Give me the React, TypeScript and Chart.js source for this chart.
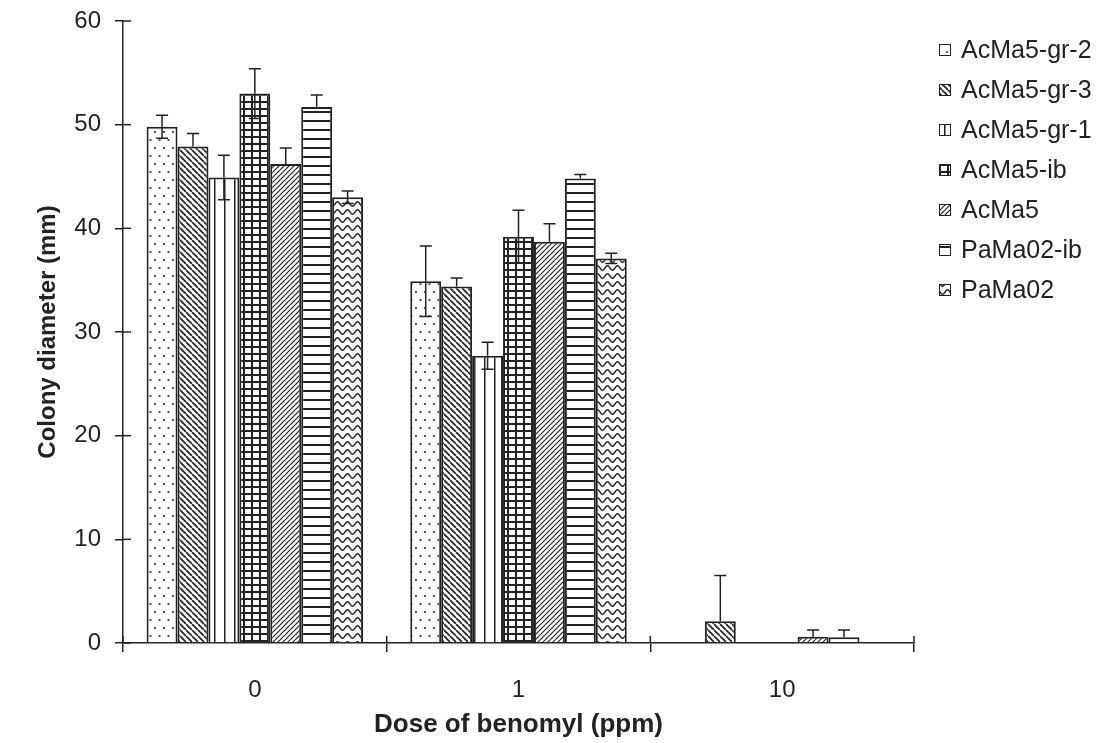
import React, { useEffect, useRef } from 'react';
import { Chart, registerables } from 'chart.js';

Chart.register(...registerables);

// ---------- data ----------
const categories = ['0', '1', '10'];
const seriesNames = ['AcMa5-gr-2', 'AcMa5-gr-3', 'AcMa5-gr-1', 'AcMa5-ib', 'AcMa5', 'PaMa02-ib', 'PaMa02'];

const acma5gr2 = [49.8, 34.9, 0];
const acma5gr3 = [47.9, 34.4, 2.1];
const acma5gr1 = [44.9, 27.7, 0];
const acma5ib = [53.0, 39.2, 0];
const acma5 = [46.2, 38.7, 0.6];
const pama02ib = [51.7, 44.8, 0.55];
const pama02 = [43.0, 37.1, 0];

// upper error (whisker above bar)
const acma5gr2Err = [1.1, 3.4, 0];
const acma5gr3Err = [1.25, 0.8, 4.4];
const acma5gr1Err = [2.15, 1.3, 0];
const acma5ibErr = [2.4, 2.55, 0];
const acma5Err = [1.55, 1.75, 0.65];
const pama02ibErr = [1.15, 0.4, 0.7];
const pama02Err = [0.6, 0.5, 0];

// lower error (whisker visible inside bar)
const acma5gr2ErrLow = [1.1, 3.4, 0];
const acma5gr3ErrLow = [0, 0, 0];
const acma5gr1ErrLow = [2.15, 1.3, 0];
const acma5ibErrLow = [2.4, 2.55, 0];
const acma5ErrLow = [0, 0, 0];
const pama02ibErrLow = [0, 0, 0];
const pama02ErrLow = [0.6, 0.5, 0];

const yTicksMin = 0;
const yTicksMax = 60;
const yTicksStep = 10;

const seriesValues = [acma5gr2, acma5gr3, acma5gr1, acma5ib, acma5, pama02ib, pama02];
const seriesErrUp = [acma5gr2Err, acma5gr3Err, acma5gr1Err, acma5ibErr, acma5Err, pama02ibErr, pama02Err];
const seriesErrLow = [acma5gr2ErrLow, acma5gr3ErrLow, acma5gr1ErrLow, acma5ibErrLow, acma5ErrLow, pama02ibErrLow, pama02ErrLow];
const patternKinds = ['dots', 'backslash', 'vertical', 'grid', 'slash', 'horizontal', 'wave'];

// ---------- patterns ----------
const INK = '#222222';
const FONT = '"Liberation Sans", Arial, sans-serif';

function makePattern(ctx: CanvasRenderingContext2D, kind: string): CanvasPattern | string {
  const t = document.createElement('canvas');
  let w = 10, h = 10;
  if (kind === 'dots') { w = 9; h = 16; }
  if (kind === 'backslash') { w = 6; h = 6; }
  if (kind === 'slash') { w = 5; h = 5; }
  if (kind === 'vertical') { w = 10; h = 10; }
  if (kind === 'grid') { w = 8; h = 7; }
  if (kind === 'horizontal') { w = 10; h = 9; }
  if (kind === 'wave') { w = 10; h = 8; }
  t.width = w; t.height = h;
  const c = t.getContext('2d')!;
  c.fillStyle = '#ffffff';
  c.fillRect(0, 0, w, h);
  c.strokeStyle = INK;
  c.fillStyle = '#555555';
  if (kind === 'dots') {
    c.fillRect(1, 3, 2, 2);
    c.fillRect(5.5, 11, 2, 2);
  } else if (kind === 'backslash') {
    c.lineWidth = 1.7;
    for (let k = -1; k <= 1; k++) {
      c.beginPath(); c.moveTo(0, k * h); c.lineTo(w, k * h + h); c.stroke();
    }
  } else if (kind === 'slash') {
    c.lineWidth = 1.2;
    for (let k = -1; k <= 1; k++) {
      c.beginPath(); c.moveTo(0, k * h + h); c.lineTo(w, k * h); c.stroke();
    }
  } else if (kind === 'vertical') {
    c.fillStyle = INK;
    c.fillRect(4, 0, 1.5, h);
  } else if (kind === 'grid') {
    c.fillStyle = INK;
    c.fillRect(3, 0, 2, h);
    c.fillRect(0, 3, w, 2);
  } else if (kind === 'horizontal') {
    c.fillStyle = INK;
    c.fillRect(0, 3, w, 2);
  } else if (kind === 'wave') {
    c.lineWidth = 1.4;
    c.beginPath();
    for (let x = -1; x <= w + 1; x += 0.5) {
      const y = 4 + 2.3 * Math.sin((2 * Math.PI * x) / w);
      if (x === -1) c.moveTo(x, y); else c.lineTo(x, y);
    }
    c.stroke();
  }
  return ctx.createPattern(t, 'repeat') || '#fff';
}

// ---------- plugins ----------
const errorBarsPlugin = {
  id: 'errorBars',
  afterDatasetsDraw(chart: any) {
    const { ctx } = chart;
    const yScale = chart.scales.y;
    ctx.save();
    ctx.strokeStyle = INK;
    ctx.lineWidth = 1.5;
    const cap = 6;
    chart.data.datasets.forEach((ds: any, i: number) => {
      const meta = chart.getDatasetMeta(i);
      meta.data.forEach((el: any, j: number) => {
        const v = ds.data[j];
        const up = ds.errUp[j];
        const low = ds.errLow[j];
        const x = el.x;
        const y0 = yScale.getPixelForValue(v);
        if (up > 0) {
          const y1 = yScale.getPixelForValue(v + up);
          ctx.beginPath();
          ctx.moveTo(x, y0); ctx.lineTo(x, y1);
          ctx.moveTo(x - cap, y1); ctx.lineTo(x + cap, y1);
          ctx.stroke();
        }
        if (low > 0) {
          const y2 = yScale.getPixelForValue(Math.max(0, v - low));
          ctx.beginPath();
          ctx.moveTo(x, y0); ctx.lineTo(x, y2);
          ctx.moveTo(x - cap, y2); ctx.lineTo(x + cap, y2);
          ctx.stroke();
        }
      });
    });
    ctx.restore();
  },
};

const crossTicksPlugin = {
  id: 'crossTicks',
  afterDraw(chart: any) {
    const { ctx, chartArea } = chart;
    const x = chart.scales.x;
    const y = chart.scales.y;
    ctx.save();
    ctx.strokeStyle = INK;
    ctx.lineWidth = 1.5;
    y.ticks.forEach((_t: any, i: number) => {
      const py = y.getPixelForTick(i);
      ctx.beginPath(); ctx.moveTo(chartArea.left, py); ctx.lineTo(chartArea.left + 8, py); ctx.stroke();
    });
    const n = x.ticks.length;
    const half = (x.getPixelForTick(1) - x.getPixelForTick(0)) / 2;
    const start = x.getPixelForTick(0) - half;
    for (let i = 0; i <= n; i++) {
      const px = start + i * 2 * half;
      ctx.beginPath(); ctx.moveTo(px, chartArea.bottom); ctx.lineTo(px, chartArea.bottom - 7); ctx.stroke();
    }
    ctx.restore();
  },
};

const customLegendPlugin = {
  id: 'customLegend',
  afterDraw(chart: any) {
    const { ctx } = chart;
    const left = 939;
    const top = 50;
    const step = 40;
    const box = 12;
    ctx.save();
    ctx.font = `25px ${FONT}`;
    ctx.textBaseline = 'middle';
    ctx.textAlign = 'left';
    chart.data.datasets.forEach((ds: any, i: number) => {
      const cy = top + i * step;
      ctx.fillStyle = ds.backgroundColor;
      ctx.fillRect(left, cy - box / 2, box, box);
      ctx.strokeStyle = INK;
      ctx.lineWidth = 1;
      ctx.strokeRect(left + 0.5, cy - box / 2 + 0.5, box - 1, box - 1);
      ctx.fillStyle = INK;
      ctx.fillText(ds.label, left + 22, cy + 1);
    });
    ctx.restore();
  },
};

export default function App() {
  const canvasRef = useRef<HTMLCanvasElement | null>(null);

  useEffect(() => {
    const canvas = canvasRef.current!;
    const ctx = canvas.getContext('2d')!;
    const datasets = seriesNames.map((name, i) => ({
      label: name,
      data: seriesValues[i],
      errUp: seriesErrUp[i],
      errLow: seriesErrLow[i],
      backgroundColor: makePattern(ctx, patternKinds[i]),
      borderColor: INK,
      borderWidth: 2,
      borderSkipped: 'bottom',
      categoryPercentage: 0.821,
      barPercentage: 1.0,
    }));

    const chart = new Chart(ctx, {
      type: 'bar',
      data: { labels: categories, datasets: datasets as any },
      plugins: [errorBarsPlugin, crossTicksPlugin, customLegendPlugin],
      options: {
        animation: false,
        responsive: false,
        maintainAspectRatio: false,
        layout: { padding: { top: 21, right: 189, left: 0, bottom: 0 } },
        plugins: {
          legend: { display: false },
          tooltip: { enabled: false },
        },
        scales: {
          x: {
            type: 'category',
            afterFit: (s: any) => { s.height = 100; s.paddingLeft = 0; s.paddingRight = 0; },
            grid: {
              display: true,
              drawOnChartArea: false,
              drawTicks: true,
              tickLength: 9,
              color: INK,
              lineWidth: 1.5,
              offset: true,
            },
            border: { display: true, color: INK, width: 1.5 },
            ticks: {
              color: INK,
              font: { family: FONT, size: 24 },
              padding: 24,
            },
            title: {
              display: true,
              text: 'Dose of benomyl (ppm)',
              color: INK,
              font: { family: FONT, size: 26, weight: 'bold' },
              padding: { top: 0, bottom: 3 },
            },
          },
          y: {
            min: yTicksMin,
            max: yTicksMax,
            afterFit: (s: any) => { s.width = 123; s.paddingTop = 0; s.paddingBottom = 0; },
            grid: {
              display: true,
              drawOnChartArea: false,
              drawTicks: true,
              tickLength: 8,
              color: INK,
              lineWidth: 1.5,
            },
            border: { display: true, color: INK, width: 1.5 },
            ticks: {
              stepSize: yTicksStep,
              color: INK,
              font: { family: FONT, size: 24 },
              padding: 14,
            },
            title: {
              display: true,
              text: 'Colony diameter (mm)',
              color: INK,
              font: { family: FONT, size: 24, weight: 'bold' },
              padding: { top: 34, bottom: 0 },
            },
          },
        },
      } as any,
    });
    return () => chart.destroy();
  }, []);

  return (
    <div style={{ position: 'fixed', left: 0, top: 0, width: 1103, height: 743, background: '#fff' }}>
      <canvas ref={canvasRef} width={1103} height={743} style={{ display: 'block' }} />
    </div>
  );
}
